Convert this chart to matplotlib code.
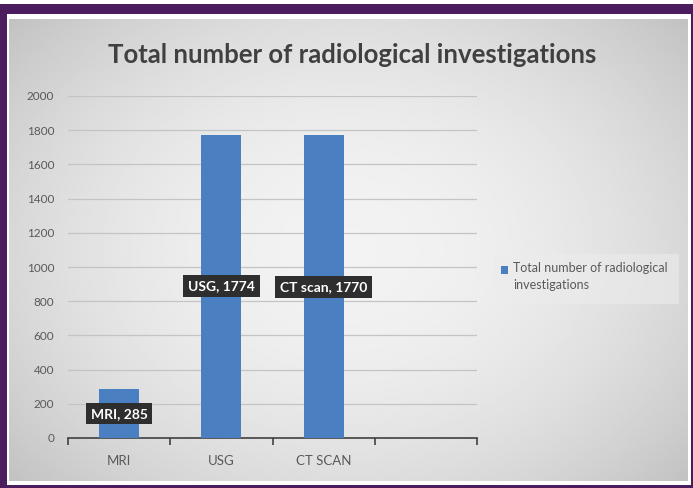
import numpy as np
import matplotlib.pyplot as plt
from matplotlib.patches import Rectangle

plt.rcParams['font.family'] = ['Lato', 'DejaVu Sans']

categories = ["MRI", "USG", "CT SCAN", ""]
label_names = ["MRI", "USG", "CT scan"]
values = [285, 1774, 1770]
yticks = [0, 200, 400, 600, 800, 1000, 1200, 1400, 1600, 1800, 2000]
title = "Total number of radiological investigations"
series_name = "Total number of radiological\ninvestigations"

W, H = 693, 488
fig = plt.figure(figsize=(W / 100, H / 100), dpi=100)
fig.patch.set_facecolor('white')

def px(x0, y0, x1, y1):
    # pixel box (top-left origin) -> figure fraction rect
    return [x0 / W, 1 - y1 / H, (x1 - x0) / W, (y1 - y0) / H]

# frame + gradient background, drawn in pixel coords on a full-figure axes
frame = fig.add_axes([0, 0, 1, 1], zorder=0)
frame.axis('off')
frame.add_patch(Rectangle((0, 4), W, H - 4, facecolor='#4b1d5f', edgecolor='none'))
frame.add_patch(Rectangle((7, 14), 684, 471, facecolor='white', edgecolor='none'))
yy, xx = np.mgrid[-1:1:200j, -1:1:300j]
r = np.sqrt((xx * 0.9) ** 2 + (yy * 0.8) ** 2)
grad = 0.95 - 0.13 * np.clip(r, 0, 1.3) ** 2
frame.imshow(grad, cmap='gray', vmin=0, vmax=1, aspect='auto',
             interpolation='bilinear', extent=(9, 688, 481, 19), zorder=1)
frame.set_xlim(0, W)
frame.set_ylim(H, 0)

# legend
frame.add_patch(Rectangle((494, 254), 185, 50, facecolor='#ececec',
                          edgecolor='none', alpha=0.6, zorder=2))
frame.add_patch(Rectangle((501, 266), 7, 8, facecolor='#4a80c2',
                          edgecolor='none', zorder=3))
frame.text(513, 262, series_name, ha='left', va='top', fontsize=9,
           color='#595959', linespacing=1.5, zorder=3)

frame.text(352, 55, title, ha='center', va='center', fontsize=18.5,
           fontweight='bold', color='#404040', zorder=3)

ax = fig.add_axes(px(68, 96, 477, 438), zorder=2)
ax.patch.set_alpha(0)
x = np.arange(len(values))
bars = ax.bar(x, values, width=0.39, color='#4a80c2', zorder=3)

ax.set_xlim(-0.5, len(categories) - 0.5)
ax.set_ylim(0, 2000)
ax.set_yticks(yticks)
ax.set_yticklabels([str(t) for t in yticks], fontsize=8.5, color='#595959')
ax.tick_params(axis='y', length=0, pad=10)
ax.yaxis.grid(True, color='#c4c4c4', linewidth=0.9, zorder=0)
ax.set_axisbelow(True)

ax.set_xticks(np.arange(len(categories) + 1) - 0.5)
ax.set_xticklabels([])
ax.set_xticks(np.arange(len(categories)), minor=True)
ax.set_xticklabels(categories, minor=True, fontsize=9.5, color='#595959')
ax.tick_params(axis='x', which='major', length=5, width=1.2, color='#404040', direction='out')
ax.tick_params(axis='x', which='minor', length=0, pad=12)

for s in ['top', 'right', 'left']:
    ax.spines[s].set_visible(False)
ax.spines['bottom'].set_color('#404040')
ax.spines['bottom'].set_linewidth(1.2)

for xi, v, name in zip(x, values, label_names):
    ax.text(xi, v / 2, f"{name}, {v}", ha='center', va='center', fontsize=10,
            fontweight='bold', color='white', zorder=5,
            bbox=dict(boxstyle='square,pad=0.35', facecolor='#2e2e2e', edgecolor='none'))

fig.savefig('out.png', dpi=100)
